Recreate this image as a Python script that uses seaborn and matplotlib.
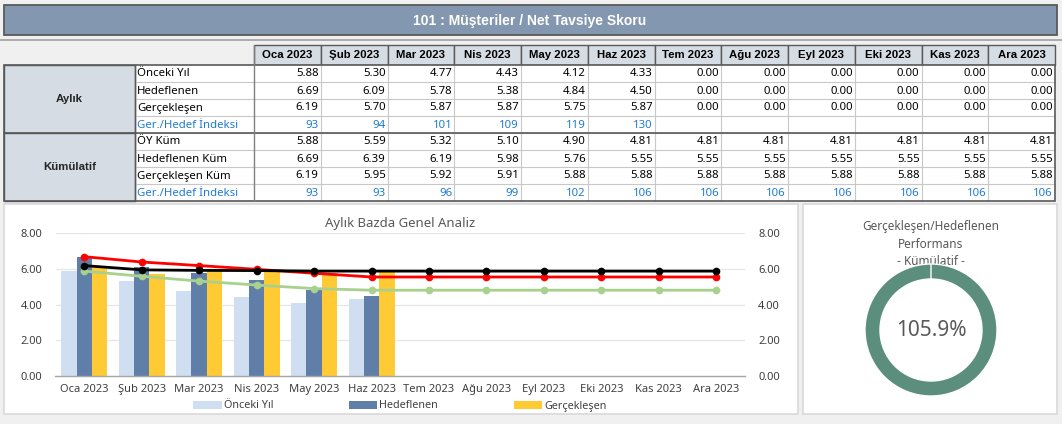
import matplotlib
matplotlib.use("Agg")
import matplotlib.pyplot as plt
from matplotlib.patches import Rectangle
import seaborn as sns
import pandas as pd
import numpy as np

# ---------------- data ----------------
months = ['Oca 2023', 'Şub 2023', 'Mar 2023', 'Nis 2023', 'May 2023', 'Haz 2023',
          'Tem 2023', 'Ağu 2023', 'Eyl 2023', 'Eki 2023', 'Kas 2023', 'Ara 2023']
onceki_yil = [5.88, 5.30, 4.77, 4.43, 4.12, 4.33, 0.00, 0.00, 0.00, 0.00, 0.00, 0.00]
hedeflenen = [6.69, 6.09, 5.78, 5.38, 4.84, 4.50, 0.00, 0.00, 0.00, 0.00, 0.00, 0.00]
gerceklesen = [6.19, 5.70, 5.87, 5.87, 5.75, 5.87, 0.00, 0.00, 0.00, 0.00, 0.00, 0.00]
aylik_endeks = [93, 94, 101, 109, 119, 130, None, None, None, None, None, None]
oy_kum = [5.88, 5.59, 5.32, 5.10, 4.90, 4.81, 4.81, 4.81, 4.81, 4.81, 4.81, 4.81]
hedef_kum = [6.69, 6.39, 6.19, 5.98, 5.76, 5.55, 5.55, 5.55, 5.55, 5.55, 5.55, 5.55]
gercek_kum = [6.19, 5.95, 5.92, 5.91, 5.88, 5.88, 5.88, 5.88, 5.88, 5.88, 5.88, 5.88]
kum_endeks = [93, 93, 96, 99, 102, 106, 106, 106, 106, 106, 106, 106]
performans = 105.9

series_names = ['Önceki Yıl', 'Hedeflenen', 'Gerçekleşen']
aylik_labels = ['Önceki Yıl', 'Hedeflenen', 'Gerçekleşen', 'Ger./Hedef İndeksi']
kum_labels = ['ÖY Küm', 'Hedeflenen Küm', 'Gerçekleşen Küm', 'Ger./Hedef İndeksi']
title = '101 : Müşteriler / Net Tavsiye Skoru'
chart_title = 'Aylık Bazda Genel Analiz'
donut_title = 'Gerçekleşen/Hedeflenen\nPerformans\n- Kümülatif -'

# ---------------- style ----------------
sns.set_style('white')
plt.rcParams['font.family'] = ['Noto Sans', 'DejaVu Sans']
BOLD = ['Liberation Sans', 'DejaVu Sans']

W, H = 1062, 424
BG = '#F0F0F0'
HDR = '#D6DCE4'
DARK = '#595959'
LIGHT = '#C8C8C8'
BLUE = '#1F7BD1'
C_OY = '#CFDEF0'
C_HED = '#5F7FA8'
C_GER = '#FFCA33'

fig = plt.figure(figsize=(W / 100, H / 100), dpi=100, facecolor=BG)
bg = fig.add_axes([0, 0, 1, 1], zorder=0)
bg.set_xlim(0, W)
bg.set_ylim(H, 0)
bg.axis('off')


def px_axes(l, t, r, b, **kw):
    return fig.add_axes([l / W, 1 - b / H, (r - l) / W, (b - t) / H], **kw)


# ---------------- title bar ----------------
bg.add_patch(Rectangle((4, 5), 1053, 30, fc='#8497B0', ec=DARK, lw=1.3))
bg.text(530, 20.5, title, color='white', fontsize=10, fontweight='bold',
        family=BOLD, ha='center', va='center')
bg.plot([0, W], [40, 40], color='#A6A6A6', lw=1.3)

# ---------------- table ----------------
x0_grp, x0_lab, x0_dat, x_end = 4, 135, 254, 1055
cw = (x_end - x0_dat) / 12
y_hdr, y_body, rh = 45, 65, 17
fs = 8.2

for i, m in enumerate(months):
    x = x0_dat + i * cw
    bg.add_patch(Rectangle((x, y_hdr), cw, y_body - y_hdr, fc=HDR, ec=DARK, lw=1.0))
    bg.text(x + cw / 2, y_hdr + 10.5, m, fontsize=8.2, fontweight='bold', family=BOLD,
            ha='center', va='center', color='black')

# white body
bg.add_patch(Rectangle((x0_lab, y_body), x_end - x0_lab, rh * 8, fc='white', ec='none'))
# group cells
for g, name in enumerate(['Aylık', 'Kümülatif']):
    yt = y_body + g * 4 * rh
    bg.add_patch(Rectangle((x0_grp, yt), x0_lab - x0_grp, 4 * rh, fc=HDR, ec=DARK, lw=1.0))
    bg.text((x0_grp + x0_lab) / 2, yt + 2 * rh, name, fontsize=8.2, fontweight='bold',
            family=BOLD, ha='center', va='center')

# light grid
for r in range(1, 8):
    y = y_body + r * rh
    bg.plot([x0_lab, x_end], [y, y], color=LIGHT, lw=0.8, zorder=1)
for i in range(1, 12):
    x = x0_dat + i * cw
    bg.plot([x, x], [y_body, y_body + 8 * rh], color=LIGHT, lw=0.8, zorder=1)

rows = [
    (aylik_labels[0], onceki_yil, False),
    (aylik_labels[1], hedeflenen, False),
    (aylik_labels[2], gerceklesen, False),
    (aylik_labels[3], aylik_endeks, True),
    (kum_labels[0], oy_kum, False),
    (kum_labels[1], hedef_kum, False),
    (kum_labels[2], gercek_kum, False),
    (kum_labels[3], kum_endeks, True),
]
for r, (lab, vals, is_idx) in enumerate(rows):
    yc = y_body + r * rh + rh / 2 + 0.5
    col = BLUE if is_idx else 'black'
    bg.text(x0_lab + 2, yc, lab, fontsize=fs, ha='left', va='center', color=col)
    for i, v in enumerate(vals):
        if v is None:
            continue
        s = f'{v:d}' if is_idx else f'{v:.2f}'
        bg.text(x0_dat + (i + 1) * cw - 2, yc, s, fontsize=fs, ha='right',
                va='center', color=col)

# dark borders
bg.add_patch(Rectangle((x0_grp, y_body), x_end - x0_grp, 8 * rh, fc='none', ec=DARK, lw=1.2, zorder=3))
bg.plot([x0_grp, x_end], [y_body + 4 * rh] * 2, color=DARK, lw=1.2, zorder=3)
bg.plot([x0_lab, x0_lab], [y_body, y_body + 8 * rh], color=DARK, lw=1.0, zorder=3)
bg.plot([x0_dat, x0_dat], [y_hdr, y_body + 8 * rh], color='#808080', lw=1.0, zorder=3)

# ---------------- panels ----------------
bg.add_patch(Rectangle((4, 204), 794, 210, fc='white', ec='#D9D9D9', lw=1.2))
bg.add_patch(Rectangle((803, 204), 254, 210, fc='white', ec='#D9D9D9', lw=1.2))

# ---------------- combo chart ----------------
ax = px_axes(55.5, 233.3, 745, 376, zorder=2)
ax.set_facecolor('none')
df = pd.DataFrame({
    'Ay': months * 3,
    'Seri': np.repeat(series_names, len(months)),
    'Değer': onceki_yil + hedeflenen + gerceklesen,
})
sns.barplot(data=df, x='Ay', y='Değer', hue='Seri', hue_order=series_names,
            order=months, palette=[C_OY, C_HED, C_GER], width=0.8,
            saturation=1, linewidth=0, edgecolor='none', ax=ax, legend=True)
handles, labels = ax.get_legend_handles_labels()
if ax.get_legend() is not None:
    ax.get_legend().remove()

for vals, c in [(oy_kum, '#A9D18E'), (hedef_kum, '#FF0000'), (gercek_kum, '#000000')]:
    sns.pointplot(x=months, y=vals, order=months, color=c, markers='o',
                  markersize=4, linewidth=2.0, errorbar=None, ax=ax, legend=False)
if ax.get_legend() is not None:
    ax.get_legend().remove()

ax.set_xlim(-0.5, 11.5)
ax.set_ylim(0, 8)
ticks = [0, 2, 4, 6, 8]
ax.set_yticks(ticks)
ax.set_yticklabels([f'{t:.2f}' for t in ticks])
ax.set_xlabel('')
ax.set_ylabel('')
ax.grid(axis='y', color='#E6E6E6', lw=0.9)
ax.set_axisbelow(True)
for s in ['top', 'right', 'left']:
    ax.spines[s].set_visible(False)
ax.spines['bottom'].set_color('#A6A6A6')
ax.spines['bottom'].set_linewidth(1.0)
ax.tick_params(axis='both', length=0, labelsize=8, colors='#404040')
ax.tick_params(axis='y', pad=9.5)
ax.tick_params(axis='x', pad=6)

ax2 = ax.twinx()
ax2.set_ylim(0, 8)
ax2.set_yticks(ticks)
ax2.set_yticklabels([f'{t:.2f}' for t in ticks])
for s in ax2.spines.values():
    s.set_visible(False)
ax2.tick_params(axis='y', length=0, labelsize=8, colors='#404040', pad=9.5)
ax2.grid(False)

bg.text(400, 224, chart_title, fontsize=9.5, color='#595959', ha='center', va='center')

leg = fig.legend(handles, labels, loc='center', bbox_to_anchor=(400 / W, 1 - 406 / H),
                 ncol=3, frameon=False, fontsize=7.8, handlelength=2.6,
                 handleheight=0.75, handletextpad=0.2, columnspacing=7.0,
                 labelcolor='#404040')

# ---------------- donut ----------------
cx, cy, R = 931, 330, 66
dax = px_axes(cx - R - 2, cy - R - 2, cx + R + 2, cy + R + 2, zorder=2)
fill = min(performans, 100.0)
dax.pie([fill, 100.0 - fill], radius=R / (R + 2), startangle=90, counterclock=False,
        colors=['#5B8E7D', 'white'],
        wedgeprops=dict(width=15 / (R + 2), edgecolor='white', linewidth=1.0))
dax.set_xlim(-1, 1)
dax.set_ylim(-1, 1)
dax.set_aspect('equal')
dax.axis('off')
dax.text(0, 0, f'{performans:.1f}%', fontsize=15, color='#595959', ha='center', va='center')

bg.text(931, 244, donut_title, fontsize=8.5, color='#595959', ha='center', va='center',
        linespacing=1.45, zorder=5)

fig.savefig('out.png', dpi=100, facecolor=BG)
